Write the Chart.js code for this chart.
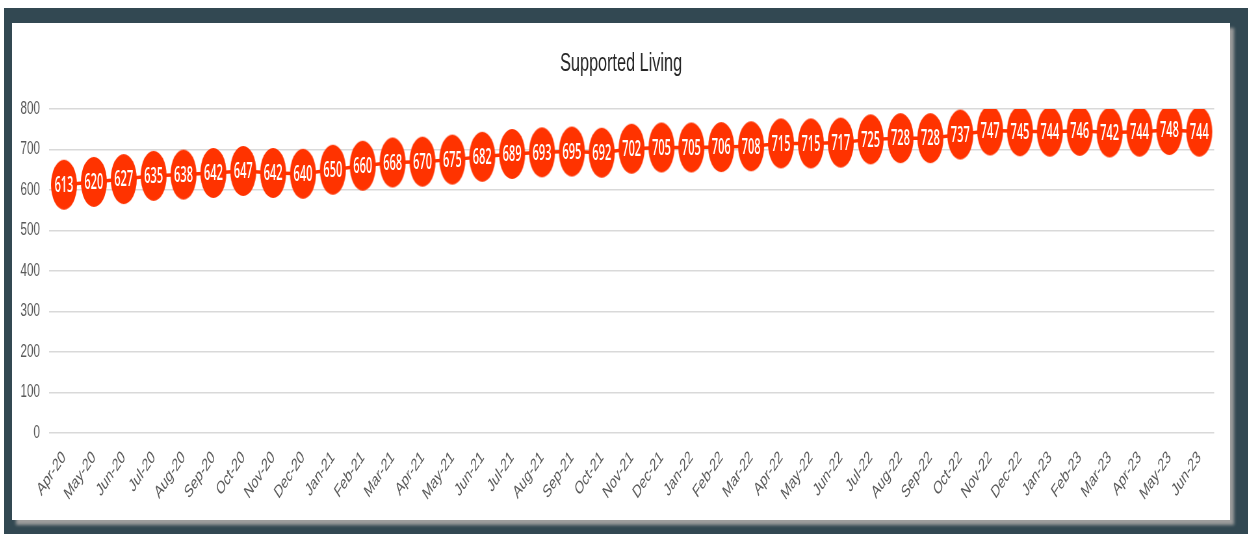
<!DOCTYPE html>
<html>
<head>
<meta charset="utf-8">
<script src="https://cdn.jsdelivr.net/npm/chart.js@4"></script>
<style>
  html, body { margin: 0; padding: 0; background: #ffffff; width: 1248px; height: 534px; overflow: hidden; }
  #frame { position: absolute; left: 4px; top: 8px; width: 1244px; height: 526px; background: #324852; }
  #panel { position: absolute; left: 12px; top: 23px; width: 1218px; height: 497px; background: #ffffff;
           box-shadow: 4px 5px 3px #9c9c9c; overflow: hidden; }
  #wrap { position: absolute; left: 0; top: 0; width: 1874px; height: 497px; transform: scaleX(0.65); transform-origin: 0 0; }
  canvas { display: block; }
</style>
</head>
<body>
<div id="frame"></div>
<div id="panel"><div id="wrap"><canvas id="c" width="1874" height="497" style="width:1874px;height:497px"></canvas></div></div>
<script>
const categories = ["Apr-20","May-20","Jun-20","Jul-20","Aug-20","Sep-20","Oct-20","Nov-20","Dec-20",
  "Jan-21","Feb-21","Mar-21","Apr-21","May-21","Jun-21","Jul-21","Aug-21","Sep-21","Oct-21","Nov-21","Dec-21",
  "Jan-22","Feb-22","Mar-22","Apr-22","May-22","Jun-22","Jul-22","Aug-22","Sep-22","Oct-22","Nov-22","Dec-22",
  "Jan-23","Feb-23","Mar-23","Apr-23","May-23","Jun-23"];
const supportedLiving = [613,620,627,635,638,642,647,642,640,650,660,668,670,675,682,689,693,695,692,702,705,
  705,706,708,715,715,717,725,728,728,737,747,745,744,746,742,744,748,744];
const yTicks = [0,100,200,300,400,500,600,700,800];
const chartTitle = "Supported Living";

const RED = "#ff3300";
// ellipse marker (pre-scale space)
const marker = document.createElement("canvas");
marker.width = 42; marker.height = 52;
(function(){
  const m = marker.getContext("2d");
  m.fillStyle = RED;
  m.beginPath();
  m.ellipse(21, 26, 20, 25, 0, 0, Math.PI * 2);
  m.fill();
})();

const labelPlugin = {
  id: "valueLabels",
  afterDatasetsDraw(chart) {
    const ctx = chart.ctx;
    const meta = chart.getDatasetMeta(0);
    ctx.fillStyle = "#ffffff";
    ctx.font = "600 17px 'Open Sans', 'Liberation Sans', Arial, sans-serif";
    ctx.textAlign = "center";
    ctx.textBaseline = "middle";
    meta.data.forEach((pt, i) => {
      ctx.save();
      ctx.translate(pt.x, pt.y + 1);
      ctx.scale(1, 1.3);
      ctx.fillText(String(supportedLiving[i]), 0, 0);
      ctx.restore();
    });
  }
};

new Chart(document.getElementById("c"), {
  type: "line",
  data: {
    labels: categories,
    datasets: [{
      data: supportedLiving,
      borderColor: RED,
      borderWidth: 3.5,
      pointStyle: marker,
      pointRadius: 21,
      pointHoverRadius: 21,
      tension: 0
    }]
  },
  options: {
    responsive: false,
    animation: false,
    devicePixelRatio: 1,
    layout: { padding: { left: 0, right: 0, top: 0, bottom: 7 } },
    plugins: {
      legend: { display: false },
      tooltip: { enabled: false },
      title: {
        display: true,
        text: chartTitle,
        color: "#262626",
        font: { family: "'Liberation Sans', Arial, sans-serif", size: 25, weight: "normal" },
        padding: { top: 26, bottom: 30 }
      }
    },
    scales: {
      x: {
        offset: true,
        grid: { display: false },
        border: { display: false },
        ticks: {
          color: "#595959",
          font: { family: "'Liberation Sans', Arial, sans-serif", size: 18 },
          maxRotation: 45, minRotation: 45,
          autoSkip: false,
          padding: 6
        },
        afterFit(scale) { scale.height = 80; }
      },
      y: {
        min: 0, max: 800,
        afterBuildTicks(scale) { scale.ticks = yTicks.map(v => ({ value: v })); },
        grid: { color: "#d9d9d9", lineWidth: 1.5, drawTicks: false },
        border: { display: false },
        ticks: {
          color: "#595959",
          font: { family: "'Liberation Sans', Arial, sans-serif", size: 18 },
          padding: 14
        },
        afterFit(scale) { scale.width = 57; }
      },
      yRight: {
        type: "linear",
        position: "right",
        min: 0, max: 800,
        grid: { display: false },
        border: { display: false },
        ticks: { display: false },
        afterFit(scale) { scale.width = 18; }
      }
    }
  },
  plugins: [labelPlugin]
});
</script>
</body>
</html>
